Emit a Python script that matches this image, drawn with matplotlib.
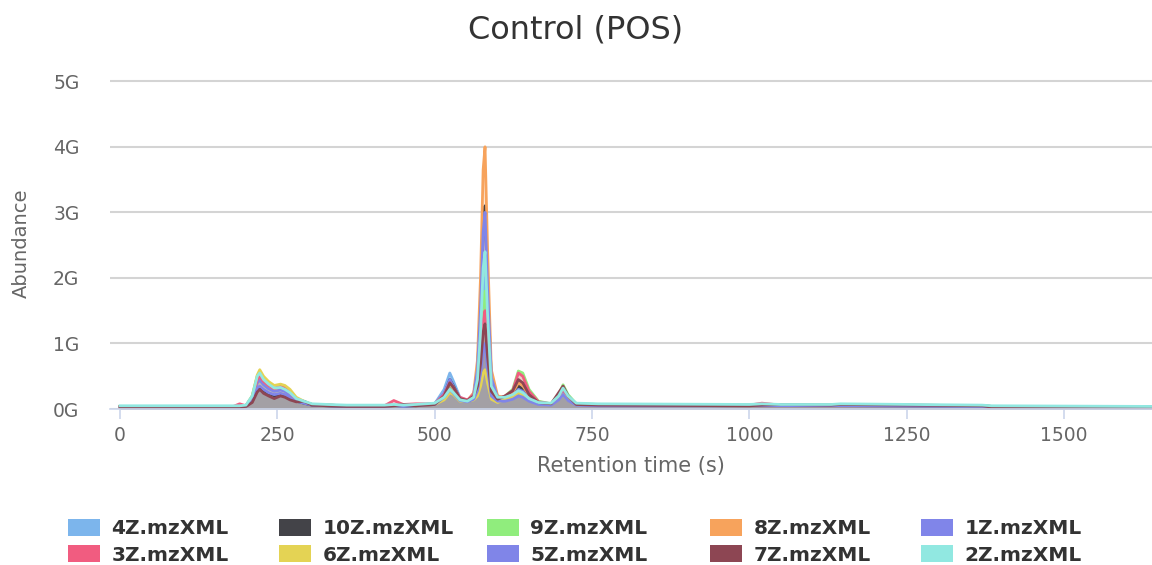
import matplotlib
matplotlib.use("Agg")
import matplotlib.pyplot as plt
from matplotlib.patches import Patch

# retention times (s) where the chromatogram values were read
times = [0, 180, 190, 200, 210, 218, 222, 228, 236, 245, 255, 262, 270, 280, 292, 305, 330, 360,
         420, 435, 450, 470, 500, 515, 524, 530, 540, 552, 562, 568, 573, 577, 580, 584, 590, 600,
         612, 624, 633, 640, 650, 665, 685, 697, 704, 712, 725, 760, 1000, 1020, 1050, 1130, 1145,
         1370, 1385, 1640]

# abundance in G (1e9) per file
z4 = [0.04, 0.04, 0.04, 0.05, 0.18, 0.45, 0.50, 0.42, 0.36, 0.30, 0.32, 0.30, 0.24, 0.15, 0.11, 0.07, 0.06, 0.05,
      0.05, 0.06, 0.05, 0.06, 0.08, 0.30, 0.55, 0.42, 0.18, 0.13, 0.20, 0.45, 1.05, 1.80, 2.00, 1.25, 0.35, 0.16,
      0.16, 0.20, 0.30, 0.27, 0.16, 0.08, 0.07, 0.18, 0.30, 0.18, 0.08, 0.07, 0.06, 0.06, 0.06, 0.06, 0.06,
      0.05, 0.04, 0.03]
z10 = [0.03, 0.03, 0.03, 0.04, 0.12, 0.30, 0.33, 0.28, 0.24, 0.20, 0.22, 0.20, 0.16, 0.12, 0.09, 0.06, 0.05, 0.04,
       0.04, 0.05, 0.04, 0.05, 0.07, 0.22, 0.45, 0.35, 0.16, 0.12, 0.22, 0.60, 1.60, 2.80, 3.10, 1.90, 0.50, 0.18,
       0.16, 0.22, 0.35, 0.30, 0.18, 0.09, 0.07, 0.20, 0.30, 0.18, 0.07, 0.06, 0.05, 0.05, 0.05, 0.05, 0.05,
       0.04, 0.03, 0.03]
z9 = [0.04, 0.04, 0.04, 0.05, 0.20, 0.50, 0.56, 0.46, 0.38, 0.32, 0.34, 0.32, 0.26, 0.16, 0.11, 0.07, 0.06, 0.05,
      0.05, 0.05, 0.05, 0.06, 0.08, 0.20, 0.38, 0.30, 0.16, 0.13, 0.20, 0.42, 0.95, 1.62, 1.80, 1.10, 0.32, 0.16,
      0.20, 0.30, 0.58, 0.55, 0.30, 0.12, 0.08, 0.22, 0.37, 0.22, 0.08, 0.07, 0.06, 0.06, 0.06, 0.06, 0.06,
      0.05, 0.04, 0.03]
z8 = [0.04, 0.04, 0.04, 0.05, 0.16, 0.40, 0.45, 0.38, 0.32, 0.28, 0.30, 0.28, 0.22, 0.14, 0.10, 0.07, 0.06, 0.05,
      0.05, 0.05, 0.05, 0.06, 0.08, 0.22, 0.42, 0.32, 0.16, 0.13, 0.25, 0.75, 2.05, 3.65, 4.00, 2.45, 0.60, 0.20,
      0.18, 0.25, 0.40, 0.36, 0.20, 0.10, 0.07, 0.18, 0.28, 0.17, 0.07, 0.06, 0.05, 0.05, 0.05, 0.05, 0.05,
      0.05, 0.04, 0.03]
z1 = [0.04, 0.04, 0.04, 0.05, 0.15, 0.40, 0.44, 0.37, 0.31, 0.27, 0.29, 0.27, 0.21, 0.13, 0.10, 0.07, 0.06, 0.05,
      0.05, 0.05, 0.05, 0.06, 0.08, 0.24, 0.45, 0.34, 0.16, 0.13, 0.22, 0.60, 1.55, 2.70, 3.00, 1.85, 0.48, 0.17,
      0.15, 0.20, 0.30, 0.27, 0.16, 0.08, 0.07, 0.16, 0.25, 0.16, 0.07, 0.06, 0.05, 0.05, 0.05, 0.05, 0.05,
      0.05, 0.04, 0.03]
z3 = [0.04, 0.04, 0.08, 0.05, 0.18, 0.45, 0.50, 0.42, 0.36, 0.31, 0.36, 0.33, 0.25, 0.15, 0.11, 0.07, 0.06, 0.05,
      0.05, 0.13, 0.07, 0.08, 0.08, 0.22, 0.40, 0.32, 0.18, 0.14, 0.22, 0.40, 0.80, 1.35, 1.50, 0.95, 0.30, 0.16,
      0.20, 0.28, 0.55, 0.50, 0.27, 0.11, 0.08, 0.20, 0.30, 0.18, 0.07, 0.06, 0.06, 0.09, 0.06, 0.06, 0.07,
      0.05, 0.04, 0.03]
z6 = [0.04, 0.04, 0.04, 0.05, 0.20, 0.52, 0.60, 0.50, 0.42, 0.36, 0.38, 0.36, 0.30, 0.18, 0.12, 0.07, 0.06, 0.05,
      0.05, 0.05, 0.05, 0.05, 0.07, 0.14, 0.25, 0.22, 0.12, 0.12, 0.14, 0.20, 0.35, 0.55, 0.60, 0.40, 0.15, 0.10,
      0.15, 0.18, 0.25, 0.22, 0.14, 0.08, 0.07, 0.15, 0.22, 0.14, 0.07, 0.06, 0.05, 0.05, 0.05, 0.05, 0.05,
      0.05, 0.04, 0.03]
z5 = [0.03, 0.03, 0.03, 0.04, 0.12, 0.32, 0.35, 0.30, 0.25, 0.22, 0.24, 0.22, 0.17, 0.12, 0.09, 0.06, 0.05, 0.04,
      0.04, 0.05, 0.04, 0.05, 0.07, 0.18, 0.30, 0.24, 0.13, 0.11, 0.15, 0.28, 0.55, 0.90, 1.00, 0.62, 0.20, 0.12,
      0.12, 0.15, 0.20, 0.18, 0.12, 0.07, 0.06, 0.14, 0.22, 0.13, 0.06, 0.05, 0.05, 0.05, 0.05, 0.05, 0.05,
      0.04, 0.03, 0.03]
z7 = [0.03, 0.03, 0.03, 0.04, 0.10, 0.26, 0.30, 0.24, 0.20, 0.16, 0.20, 0.18, 0.14, 0.11, 0.12, 0.06, 0.05, 0.04,
      0.04, 0.05, 0.07, 0.05, 0.07, 0.20, 0.40, 0.33, 0.16, 0.13, 0.20, 0.35, 0.70, 1.17, 1.30, 0.80, 0.27, 0.15,
      0.20, 0.28, 0.45, 0.40, 0.22, 0.10, 0.08, 0.25, 0.35, 0.20, 0.07, 0.06, 0.05, 0.06, 0.07, 0.06, 0.07,
      0.05, 0.03, 0.02]
z2 = [0.05, 0.05, 0.05, 0.06, 0.20, 0.50, 0.55, 0.45, 0.38, 0.32, 0.33, 0.30, 0.25, 0.16, 0.12, 0.08, 0.07, 0.06,
      0.06, 0.07, 0.06, 0.07, 0.09, 0.18, 0.30, 0.25, 0.14, 0.12, 0.18, 0.45, 1.20, 2.15, 2.40, 1.45, 0.35, 0.18,
      0.18, 0.22, 0.28, 0.25, 0.16, 0.10, 0.09, 0.20, 0.32, 0.20, 0.09, 0.08, 0.07, 0.08, 0.07, 0.07, 0.08,
      0.06, 0.05, 0.04]

names = ["4Z.mzXML", "10Z.mzXML", "9Z.mzXML", "8Z.mzXML", "1Z.mzXML",
         "3Z.mzXML", "6Z.mzXML", "5Z.mzXML", "7Z.mzXML", "2Z.mzXML"]
series = [z4, z10, z9, z8, z1, z3, z6, z5, z7, z2]
colors = ["#7cb5ec", "#434348", "#90ed7d", "#f7a35c", "#8085e9",
          "#f15c80", "#e4d354", "#8085e8", "#8d4653", "#91e8e1"]

y_ticks = [0, 1, 2, 3, 4, 5]
y_labels = ["0G", "1G", "2G", "3G", "4G", "5G"]
x_ticks = [0, 250, 500, 750, 1000, 1250, 1500]

fig = plt.figure(figsize=(11.52, 5.65), dpi=100)
ax = fig.add_axes([0.0955, 0.276, 0.9045, 0.586])

for name, vals, c in zip(names, series, colors):
    v = [x * 1e9 for x in vals]
    ax.fill_between(times, 0, v, color=c, alpha=0.25, linewidth=0)
    ax.plot(times, v, color=c, lw=2)

ax.set_xlim(-16, 1640)
ax.set_ylim(0, 5.05e9)
ax.set_yticks([t * 1e9 for t in y_ticks])
ax.set_yticklabels(y_labels)
ax.set_xticks(x_ticks)
ax.grid(axis="y", color="#d4d4d4", lw=1.5)
ax.set_axisbelow(True)
for s in ["top", "right", "left"]:
    ax.spines[s].set_visible(False)
ax.spines["bottom"].set_color("#ccd6eb")
ax.spines["bottom"].set_linewidth(1.2)
ax.tick_params(axis="y", length=0, pad=22, labelsize=13.5, labelcolor="#666666")
ax.tick_params(axis="x", length=7, width=1.2, color="#ccd6eb", pad=5, labelsize=13.5, labelcolor="#666666")

ax.set_xlabel("Retention time (s)", fontsize=15, color="#666666", labelpad=8)
ax.set_ylabel("Abundance", fontsize=14, color="#666666", labelpad=16,
              family=["Liberation Sans Narrow", "DejaVu Sans"])
fig.suptitle("Control (POS)", fontsize=23, color="#333333", y=0.975)

# legend: one small legend per column, 2 rows
col_x = [68, 279, 487, 710, 921]
for k, x0 in enumerate(col_x):
    hs = [Patch(facecolor=colors[i], edgecolor="none", label=names[i]) for i in (k, k + 5)]
    fig.legend(handles=hs, ncol=1, loc="center left", bbox_to_anchor=(x0 / 1152, 0.041),
               frameon=False, prop={"weight": "bold", "size": 14.5}, labelcolor="#333333",
               handlelength=1.6, handleheight=0.9, handletextpad=0.55,
               labelspacing=0.35, borderpad=0, borderaxespad=0)

fig.savefig("out.png", dpi=100)
